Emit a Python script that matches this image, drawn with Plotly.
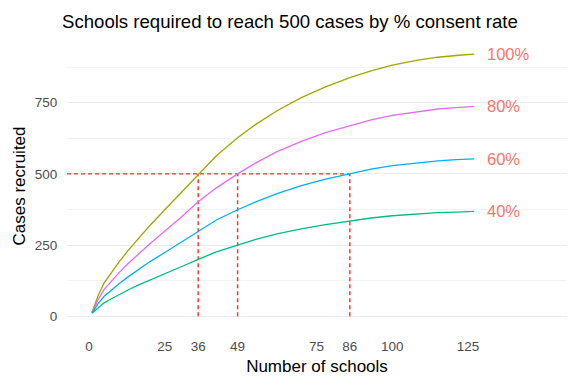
import plotly.graph_objects as go

# ---- data ----
schools = [1, 3, 5, 8, 10, 13, 16, 20, 25, 30, 36, 42, 49, 55, 62, 70, 78, 86, 93, 100, 108, 115, 121, 127]
cases_100 = [14, 72, 117, 163, 192, 232, 270, 318, 374, 430, 500, 564, 627, 674, 722, 768, 806, 838, 862, 882, 899, 910, 916, 921]
cases_80 = [12, 58, 94, 130, 154, 186, 216, 254, 299, 344, 402, 451, 500, 539, 578, 614, 645, 670, 690, 706, 719, 728, 733, 737]
cases_60 = [11, 44, 70, 98, 115, 139, 162, 191, 224, 258, 300, 338, 374, 402, 431, 459, 482, 500, 517, 529, 539, 546, 550, 553]
cases_40 = [10, 29, 47, 65, 77, 93, 108, 127, 150, 172, 200, 226, 250, 270, 289, 307, 322, 335, 345, 353, 360, 364, 366, 368]

series_names = ["100%", "80%", "60%", "40%"]
series_values = [cases_100, cases_80, cases_60, cases_40]
series_colors = ["#A3A500", "#E76BF3", "#00B0F6", "#00BF7D"]

target_cases = 500
schools_needed = [36, 49, 86]

x_ticks = [0, 25, 36, 49, 75, 86, 100, 125]
y_ticks = [0, 250, 500, 750]
y_minor = [125, 375, 625, 875]

x_range = [-7.25, 157.6]
y_range = [-45, 960]
label_x = 130.5

FONT = "Liberation Sans, Arial, sans-serif"
DASH_COLOR = "#FF2A2A"

fig = go.Figure()

# dashed guide lines
fig.add_trace(go.Scatter(
    x=[x_range[0], max(schools_needed)], y=[target_cases, target_cases],
    mode="lines", line=dict(color=DASH_COLOR, width=1.4, dash="4px,3px"),
    hoverinfo="skip", showlegend=False))
for s in schools_needed:
    fig.add_trace(go.Scatter(
        x=[s, s], y=[0, target_cases],
        mode="lines", line=dict(color=DASH_COLOR, width=1.4, dash="4px,3px"),
        hoverinfo="skip", showlegend=False))

# curves
for name, vals, col in zip(series_names, series_values, series_colors):
    fig.add_trace(go.Scatter(
        x=schools, y=vals, mode="lines", name=name,
        line=dict(color=col, width=1.3),
        showlegend=False))
    fig.add_annotation(
        x=label_x, y=vals[-1], text=name, showarrow=False,
        xanchor="left", yanchor="middle",
        font=dict(family=FONT, size=16.5, color="#F8766D"))

fig.update_layout(
    width=568, height=376,
    margin=dict(l=67, r=1, t=43, b=47),
    paper_bgcolor="white", plot_bgcolor="white",
    font=dict(family=FONT, color="#000000"),
    title=dict(text="Schools required to reach 500 cases by % consent rate",
               x=62 / 568, xanchor="left", xref="container",
               y=1 - 21 / 376, yanchor="middle", yref="container",
               font=dict(family=FONT, size=18.6, color="#000000")),
    showlegend=False,
)

fig.update_xaxes(
    range=x_range, tickvals=x_ticks, ticktext=[str(v) for v in x_ticks],
    showgrid=False, zeroline=False, showline=False,
    ticks="outside", ticklen=5, tickcolor="rgba(0,0,0,0)",
    tickfont=dict(family=FONT, size=13.5, color="#4D4D4D"),
    title=dict(text="Number of schools", standoff=6,
               font=dict(family=FONT, size=17, color="#000000")),
)
fig.update_yaxes(
    range=y_range, tickvals=y_ticks, ticktext=[str(v) for v in y_ticks],
    showgrid=True, gridcolor="#EBEBEB", gridwidth=1.1,
    zeroline=False, showline=False,
    ticks="outside", ticklen=6, tickcolor="rgba(0,0,0,0)",
    tickfont=dict(family=FONT, size=13.5, color="#4D4D4D"),
    minor=dict(tickvals=y_minor, showgrid=True, gridcolor="#F3F3F3", gridwidth=0.8),
    title=dict(text="Cases recruited", standoff=4,
               font=dict(family=FONT, size=17, color="#000000")),
)

fig.write_html("out.html",
               config={"displayModeBar": False},
               post_script="document.body.style.margin='0';document.body.style.overflow='hidden';")
